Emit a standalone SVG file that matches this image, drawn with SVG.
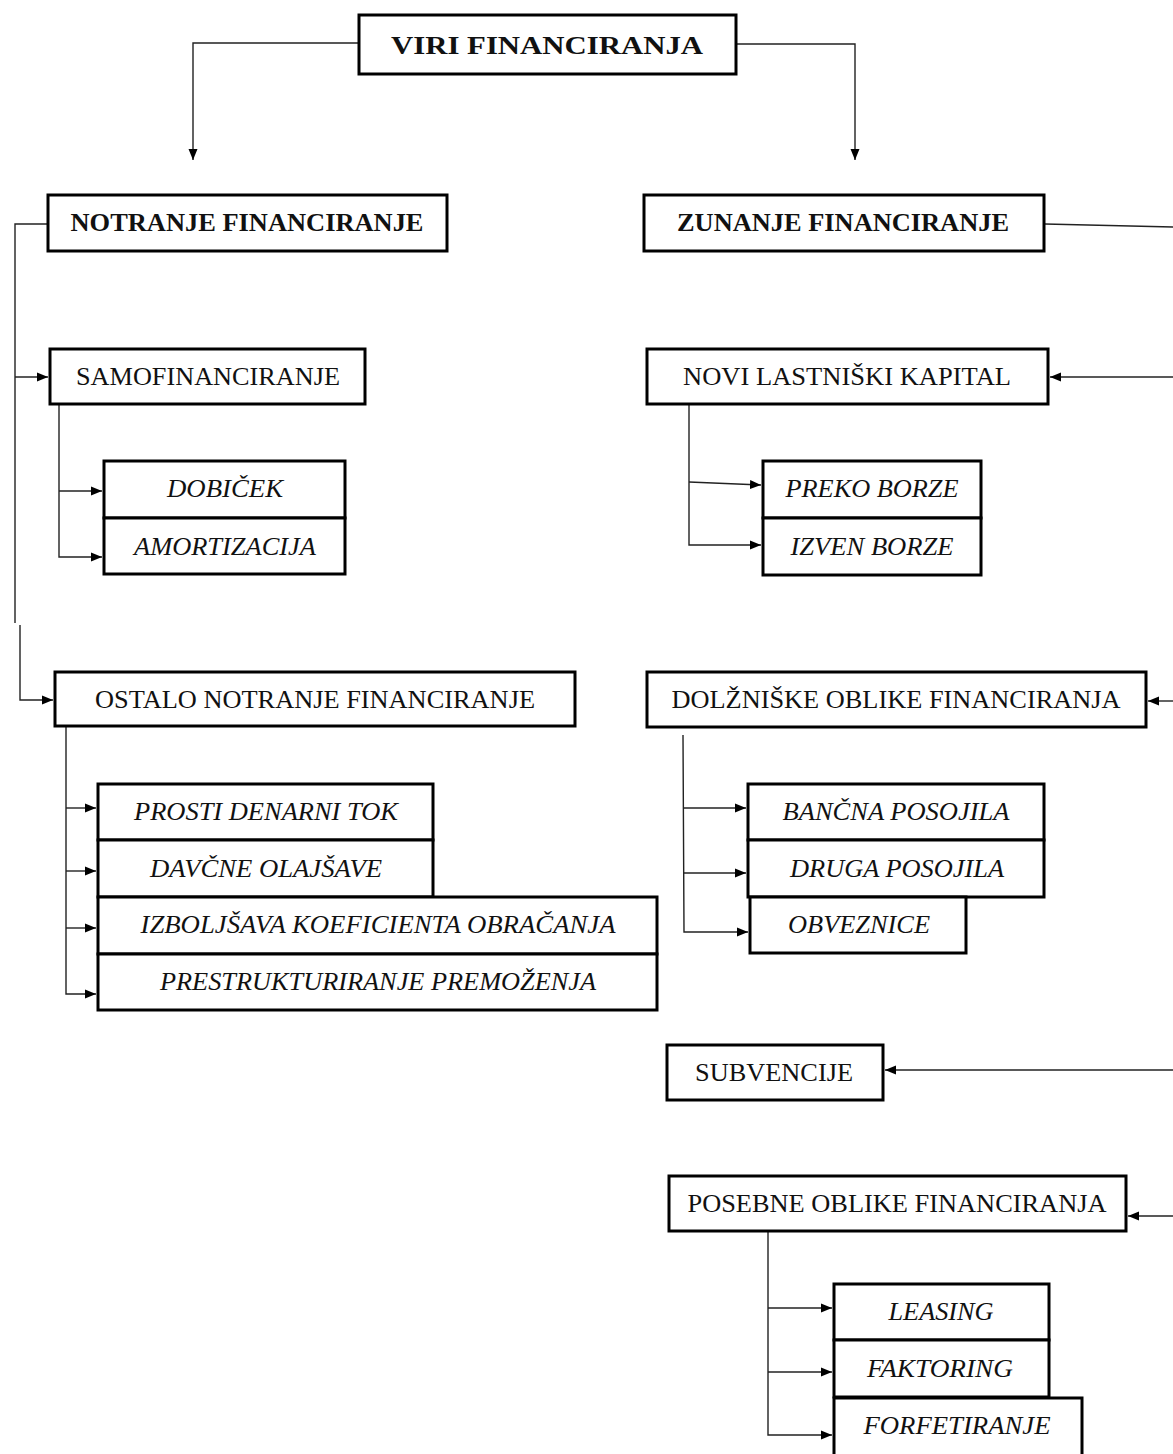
<svg xmlns="http://www.w3.org/2000/svg" width="1173" height="1454" viewBox="0 0 1173 1454">
<style>
.box{fill:#fff;stroke:#000;stroke-width:3}
.t{font-size:26px;fill:#111;text-anchor:middle}
.b{font-weight:bold}
.i{font-style:italic}
.c{fill:none;stroke:#222;stroke-width:1.4}
</style>
<defs>
<marker id="ah" markerUnits="userSpaceOnUse" markerWidth="11" markerHeight="10" refX="11" refY="5" orient="auto">
<path d="M0,0.5 L11,5 L0,9.5 z" fill="#000"/>
</marker>
</defs>
<rect width="1173" height="1454" fill="#fff"/>
<g id="connectors">
<path class="c" d="M358,43 H193 V160" marker-end="url(#ah)"/>
<path class="c" d="M737,44 H855 V160" marker-end="url(#ah)"/>
<path class="c" d="M47,224 H15 V623"/>
<path class="c" d="M15,377 H48" marker-end="url(#ah)"/>
<path class="c" d="M20,625 V700 H53" marker-end="url(#ah)"/>
<path class="c" d="M59,405 V557 H102" marker-end="url(#ah)"/>
<path class="c" d="M59,491 H102" marker-end="url(#ah)"/>
<path class="c" d="M1045,224 L1173,227"/>
<path class="c" d="M1173,377 H1050" marker-end="url(#ah)"/>
<path class="c" d="M689,405 V545 H761" marker-end="url(#ah)"/>
<path class="c" d="M689,482 L761,485" marker-end="url(#ah)"/>
<path class="c" d="M66,727 V994 H96" marker-end="url(#ah)"/>
<path class="c" d="M66,808 H96" marker-end="url(#ah)"/>
<path class="c" d="M66,871 H96" marker-end="url(#ah)"/>
<path class="c" d="M66,928 H96" marker-end="url(#ah)"/>
<path class="c" d="M1173,701 H1148" marker-end="url(#ah)"/>
<path class="c" d="M683,735 L684,932 H748" marker-end="url(#ah)"/>
<path class="c" d="M683,808 H746" marker-end="url(#ah)"/>
<path class="c" d="M683,873 H746" marker-end="url(#ah)"/>
<path class="c" d="M1173,1070 H885" marker-end="url(#ah)"/>
<path class="c" d="M1173,1216 H1128" marker-end="url(#ah)"/>
<path class="c" d="M768,1232 V1435 H832" marker-end="url(#ah)"/>
<path class="c" d="M768,1308 H832" marker-end="url(#ah)"/>
<path class="c" d="M768,1372 H832" marker-end="url(#ah)"/>
</g>
<g font-family="Liberation Serif, Times New Roman, serif">
<g id="viri"><rect class="box" x="359" y="15" width="377" height="59"/><text class="t b" x="547" y="54" font-size="29" textLength="312" lengthAdjust="spacingAndGlyphs">VIRI FINANCIRANJA</text></g>
<g id="notranje"><rect class="box" x="48" y="195" width="399" height="56"/><text class="t b" x="247" y="231" textLength="353" lengthAdjust="spacingAndGlyphs">NOTRANJE FINANCIRANJE</text></g>
<g id="zunanje"><rect class="box" x="644" y="195" width="400" height="56"/><text class="t b" x="843" y="231" textLength="332" lengthAdjust="spacingAndGlyphs">ZUNANJE FINANCIRANJE</text></g>
<g id="samofin"><rect class="box" x="50" y="349" width="315" height="55"/><text class="t" x="208" y="385" textLength="264" lengthAdjust="spacingAndGlyphs">SAMOFINANCIRANJE</text></g>
<g id="dobicek"><rect class="box" x="104" y="461" width="241" height="57"/><text class="t i" x="225" y="497" textLength="116" lengthAdjust="spacingAndGlyphs">DOBIČEK</text></g>
<g id="amortizacija"><rect class="box" x="104" y="518" width="241" height="56"/><text class="t i" x="225" y="555" textLength="182" lengthAdjust="spacingAndGlyphs">AMORTIZACIJA</text></g>
<g id="novi"><rect class="box" x="647" y="349" width="401" height="55"/><text class="t" x="847" y="385" textLength="328" lengthAdjust="spacingAndGlyphs">NOVI LASTNIŠKI KAPITAL</text></g>
<g id="preko"><rect class="box" x="763" y="461" width="218" height="57"/><text class="t i" x="872" y="497" textLength="173" lengthAdjust="spacingAndGlyphs">PREKO BORZE</text></g>
<g id="izven"><rect class="box" x="763" y="518" width="218" height="57"/><text class="t i" x="872" y="555" textLength="163" lengthAdjust="spacingAndGlyphs">IZVEN BORZE</text></g>
<g id="ostalo"><rect class="box" x="55" y="672" width="520" height="54"/><text class="t" x="315" y="708" textLength="440" lengthAdjust="spacingAndGlyphs">OSTALO NOTRANJE FINANCIRANJE</text></g>
<g id="dolzniske"><rect class="box" x="647" y="672" width="499" height="55"/><text class="t" x="896" y="708" textLength="449" lengthAdjust="spacingAndGlyphs">DOLŽNIŠKE OBLIKE FINANCIRANJA</text></g>
<g id="prosti"><rect class="box" x="98" y="784" width="335" height="56"/><text class="t i" x="266" y="820" textLength="264" lengthAdjust="spacingAndGlyphs">PROSTI DENARNI TOK</text></g>
<g id="davcne"><rect class="box" x="98" y="840" width="335" height="57"/><text class="t i" x="266" y="877" textLength="232" lengthAdjust="spacingAndGlyphs">DAVČNE OLAJŠAVE</text></g>
<g id="izboljsava"><rect class="box" x="98" y="897" width="559" height="57"/><text class="t i" x="378" y="933" textLength="475" lengthAdjust="spacingAndGlyphs">IZBOLJŠAVA KOEFICIENTA OBRAČANJA</text></g>
<g id="prestrukturiranje"><rect class="box" x="98" y="954" width="559" height="56"/><text class="t i" x="378" y="990" textLength="436" lengthAdjust="spacingAndGlyphs">PRESTRUKTURIRANJE PREMOŽENJA</text></g>
<g id="bancna"><rect class="box" x="748" y="784" width="296" height="56"/><text class="t i" x="896" y="820" textLength="227" lengthAdjust="spacingAndGlyphs">BANČNA POSOJILA</text></g>
<g id="druga"><rect class="box" x="748" y="840" width="296" height="57"/><text class="t i" x="897" y="877" textLength="214" lengthAdjust="spacingAndGlyphs">DRUGA POSOJILA</text></g>
<g id="obveznice"><rect class="box" x="750" y="897" width="216" height="56"/><text class="t i" x="859" y="933" textLength="142" lengthAdjust="spacingAndGlyphs">OBVEZNICE</text></g>
<g id="subvencije"><rect class="box" x="667" y="1045" width="216" height="55"/><text class="t" x="774" y="1081" textLength="158" lengthAdjust="spacingAndGlyphs">SUBVENCIJE</text></g>
<g id="posebne"><rect class="box" x="669" y="1176" width="457" height="55"/><text class="t" x="897" y="1212" textLength="419" lengthAdjust="spacingAndGlyphs">POSEBNE OBLIKE FINANCIRANJA</text></g>
<g id="leasing"><rect class="box" x="834" y="1284" width="215" height="56"/><text class="t i" x="941" y="1320" textLength="105" lengthAdjust="spacingAndGlyphs">LEASING</text></g>
<g id="faktoring"><rect class="box" x="834" y="1340" width="215" height="57"/><text class="t i" x="940" y="1377" textLength="146" lengthAdjust="spacingAndGlyphs">FAKTORING</text></g>
<g id="forfetiranje"><rect class="box" x="834" y="1398" width="248" height="70"/><text class="t i" x="957" y="1434" textLength="187" lengthAdjust="spacingAndGlyphs">FORFETIRANJE</text></g>
</g>
</svg>
